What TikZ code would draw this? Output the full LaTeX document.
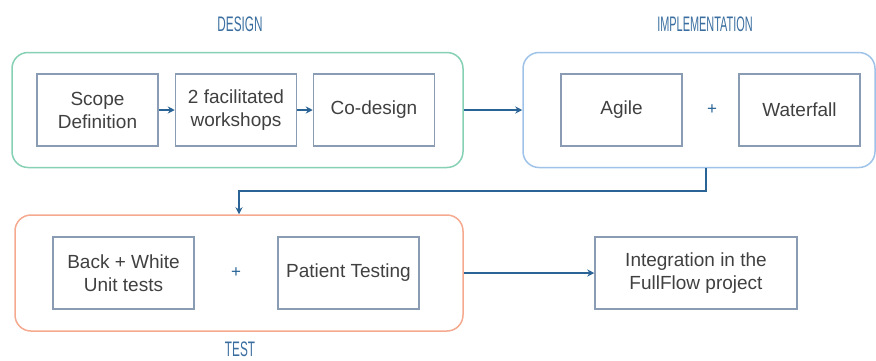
\documentclass[tikz,border=0pt]{standalone}
\usepackage{xcolor}
\usepackage{graphicx}
\usepackage{fontspec}
\setmainfont{Liberation Sans}
\usepackage{tikz}
\usetikzlibrary{arrows.meta,positioning}

\definecolor{designgreen}{HTML}{86D0B4}
\definecolor{implblue}{HTML}{9FC3E8}
\definecolor{testsalmon}{HTML}{F5A98F}
\definecolor{boxgray}{HTML}{8A9BB4}
\definecolor{textgray}{HTML}{404040}
\definecolor{flowblue}{HTML}{2A6496}
\definecolor{labelblue}{HTML}{3A6EA0}

\tikzset{
    phase/.style={draw, line width=1.5pt, rounded corners=16pt, inner sep=0pt},
    task/.style={draw=boxgray, line width=1.5pt, text=textgray, align=center,
        minimum width=121pt, minimum height=72pt, inner sep=0pt,
        font=\fontsize{19}{23}\selectfont},
    flow/.style={draw=flowblue, line width=1.5pt, -{Stealth[length=7pt,width=7pt]}},
    plus/.style={text=flowblue, font=\fontsize{17}{20}\selectfont},
    phaselabel/.style={text=labelblue, font=\fontsize{21}{24}\selectfont}
}

\begin{document}
\begin{tikzpicture}[x=1pt,y=-1pt]
    \useasboundingbox (0,0) rectangle (876,360);

    \node[phase, draw=designgreen, minimum width=451pt, minimum height=115pt] (design) at (237.5,110) {};
    \node[phase, draw=implblue, minimum width=352pt, minimum height=115pt] (impl) at (699,110) {};
    \node[phase, draw=testsalmon, minimum width=448pt, minimum height=116pt] (test) at (239,273) {};

    \node[phaselabel] (designlbl) at (240,24) {\scalebox{0.56}[1]{DESIGN}};
    \node[phaselabel] (impllbl) at (705,24) {\scalebox{0.52}[1]{IMPLEMENTATION}};
    \node[phaselabel] (testlbl) at (240,349) {\scalebox{0.56}[1]{TEST}};

    \node[task] (scope) at (97.5,110) {Scope\\Definition};
    \node[task] (workshops) at (236,110) {2 facilitated\\workshops};
    \node[task] (codesign) at (374,110) {Co-design};

    \node[task] (agile) at (621.5,110) {Agile};
    \node[plus] (plusimpl) at (712,110) {+};
    \node[task] (waterfall) at (799.5,110) {Waterfall};

    \node[task, minimum width=141pt] (unittests) at (123.5,273) {Back + White\\Unit tests};
    \node[plus] (plustest) at (236,273) {+};
    \node[task, minimum width=141pt] (patient) at (348.5,273) {Patient Testing};

    \node[task, minimum width=202pt] (integration) at (696,273) {Integration in the\\FullFlow project};

    \draw[flow] (scope) -- (workshops);
    \draw[flow] (workshops) -- (codesign);
    \draw[flow] (design) -- (impl);

    \coordinate (turn) at (706,191);
    \draw[flow] (turn |- impl.south) -- (turn) -| (test.north);

    \draw[flow] (test) -- (integration);
\end{tikzpicture}
\end{document}
